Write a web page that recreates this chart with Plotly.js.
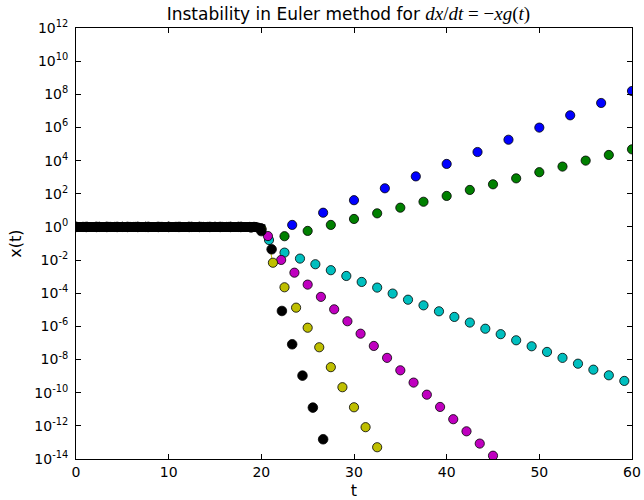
<!DOCTYPE html>
<html><head><meta charset="utf-8">
<script src="https://cdn.plot.ly/plotly-3.0.1.min.js"></script>
<style>html,body{margin:0;padding:0;background:#fff}#chart{width:644px;height:500px}</style>
</head><body><div id="chart"></div>
<script>
// Blue series
const tBlue = [0,3.33,6.67,10,13.33,16.67,20,23.33,26.67,30,33.33,36.67,40,43.33,46.67,50,53.33,56.67,60];
const xBlue = [1,1,1,1,1,1,0.8,1.32,7.2,41,214,1.12e3,6.3e3,3.3e4,1.82e5,9.8e5,5.4e6,3.0e7,1.58e8];
// Green series
const tGreen = [0,2.5,5,7.5,10,12.5,15,17.5,20,22.5,25,27.5,30,32.5,35,37.5,40,42.5,45,47.5,50,52.5,55,57.5,60];
const xGreen = [1,1,1,1,1,1,1,1,0.8,0.275,0.575,1.32,3.02,6.6,14.5,33,74,170,372,851,2000,4365,1.0e4,2.19e4,4.79e4];
// Cyan series
const tCyan = [0.83,2.5,4.17,5.83,7.5,9.17,10.83,12.5,14.17,15.83,17.5,19.17,20.83,22.5,24.17,25.83,27.5,29.17,30.83,32.5,34.17,35.83,37.5,39.17,40.83,42.5,44.17,45.83,47.5,49.17,50.83,52.5,54.17,55.83,57.5,59.17];
const xCyan = [1,1,1,1,1,1,1,1,1,1,1,1,0.162,0.0282,0.0123,5.62e-3,2.45e-3,1.10e-3,4.79e-4,2.19e-4,9.55e-5,4.07e-5,1.86e-5,8.13e-6,3.72e-6,1.70e-6,7.24e-7,3.39e-7,1.45e-7,6.31e-8,2.88e-8,1.26e-8,5.62e-9,2.45e-9,1.12e-9,5.13e-10];
// Magenta series
const tMagenta = [0.71,2.14,3.57,5.0,6.43,7.86,9.29,10.71,12.14,13.57,15.0,16.43,17.86,19.29,20.71,22.14,23.57,25.0,26.43,27.86,29.29,30.71,32.14,33.57,35.0,36.43,37.86,39.29,40.71,42.14,43.57,45.0];
const xMagenta = [1,1,1,1,1,1,1,1,1,1,1,1,1,1,0.282,1.02e-2,1.74e-3,3.31e-4,6.03e-5,1.07e-5,2.04e-6,3.63e-7,6.61e-8,1.26e-8,2.24e-9,4.07e-10,7.59e-11,1.38e-11,2.51e-12,4.68e-13,8.51e-14,1.58e-14];
// Yellow series
const tYellow = [0,1.25,2.5,3.75,5,6.25,7.5,8.75,10,11.25,12.5,13.75,15,16.25,17.5,18.75,20,21.25,22.5,23.75,25,26.25,27.5,28.75,30,31.25,32.5];
const xYellow = [1,1,1,1,1,1,1,1,1,1,1,1,1,1,1,1,0.7,6.92e-3,2.29e-4,1.35e-5,8.32e-7,5.50e-8,3.47e-9,2.14e-10,1.32e-11,8.32e-13,5.13e-14];
// Yellow connecting segment near the transition
const tYellowSeg = [20.95,21.2];
const xYellowSeg = [0.05,8e-3];
// Dense black band (x = 1 plateau, bending down near t = 20)
const tBand = [0,19.4,20.3];
const xBand = [1,1,0.72];
// Black series
const tBlack = [0,1.11,2.22,3.33,4.44,5.56,6.67,7.78,8.89,10,11.11,12.22,13.33,14.44,15.56,16.67,17.78,18.89,20,21.11,22.22,23.33,24.44,25.56,26.67];
const xBlack = [1,1,1,1,1,1,1,1,1,1,1,1,1,1,1,1,1,0.93,0.562,0.0447,8.51e-6,8.32e-8,1.07e-9,1.26e-11,1.55e-13];

const yTickVals = [1e-14,1e-12,1e-10,1e-8,1e-6,1e-4,1e-2,1,1e2,1e4,1e6,1e8,1e10,1e12];
const yTickText = ['10<sup>-14</sup>','10<sup>-12</sup>','10<sup>-10</sup>','10<sup>-8</sup>','10<sup>-6</sup>','10<sup>-4</sup>','10<sup>-2</sup>','10<sup>0</sup>','10<sup>2</sup>','10<sup>4</sup>','10<sup>6</sup>','10<sup>8</sup>','10<sup>10</sup>','10<sup>12</sup>'];
const xTickVals = [0,10,20,30,40,50,60];

function mk(t, x, color, size){
  return {x:t, y:x, type:'scatter', mode:'markers', showlegend:false,
    marker:{color:color, size:size, line:{color:'#000', width:0.8}}};
}
const traces = [
  mk(tBlue, xBlue, '#0000ff', 9.2),
  mk(tGreen, xGreen, '#008000', 9.2),
  mk(tCyan, xCyan, '#00bfbf', 9.2),
  mk(tMagenta, xMagenta, '#bf00bf', 9.2),
  {x:tYellowSeg, y:xYellowSeg, type:'scatter', mode:'lines', showlegend:false, line:{color:'#bfbf00', width:1, simplify:false}},
  mk(tYellow, xYellow, '#bfbf00', 9.2),
  {x:tBand, y:xBand, type:'scatter', mode:'lines', showlegend:false, line:{color:'#000', width:10, simplify:false}},
  mk(tBlack, xBlack, '#000000', 9.6)
];
const axisCommon = {showgrid:false, zeroline:false, showline:true, linecolor:'#000', linewidth:1,
  ticks:'inside', ticklen:5, tickcolor:'#000', mirror:'allticks',
  tickfont:{family:'DejaVu Sans', size:14, color:'#000'}};
const layout = {
  width:644, height:500,
  margin:{l:76, r:12, t:28, b:41},
  paper_bgcolor:'#fff', plot_bgcolor:'#fff',
  title:{text:'Instability in Euler method for <span style="font-family:\'Liberation Serif\';font-size:19px"><i>dx</i>/<i>dt</i> = −<i>xg</i>(<i>t</i>)</span>',
    font:{family:'DejaVu Sans', size:17, color:'#000'}, xref:'paper', x:0.49, xanchor:'center', y:0.972, yanchor:'middle'},
  xaxis:Object.assign({}, axisCommon, {range:[0,60], tickmode:'array', tickvals:xTickVals,
    title:{text:'t', font:{family:'DejaVu Sans', size:16, color:'#000'}, standoff:6}}),
  yaxis:Object.assign({}, axisCommon, {type:'log', range:[-14,12], tickmode:'array', tickvals:yTickVals, ticktext:yTickText,
    ticklabelstandoff:4,
    title:{text:'x(t)', font:{family:'DejaVu Sans', size:16, color:'#000'}, standoff:8}})
};
Plotly.newPlot('chart', traces, layout, {displayModeBar:false, staticPlot:true});
</script>
</body></html>
